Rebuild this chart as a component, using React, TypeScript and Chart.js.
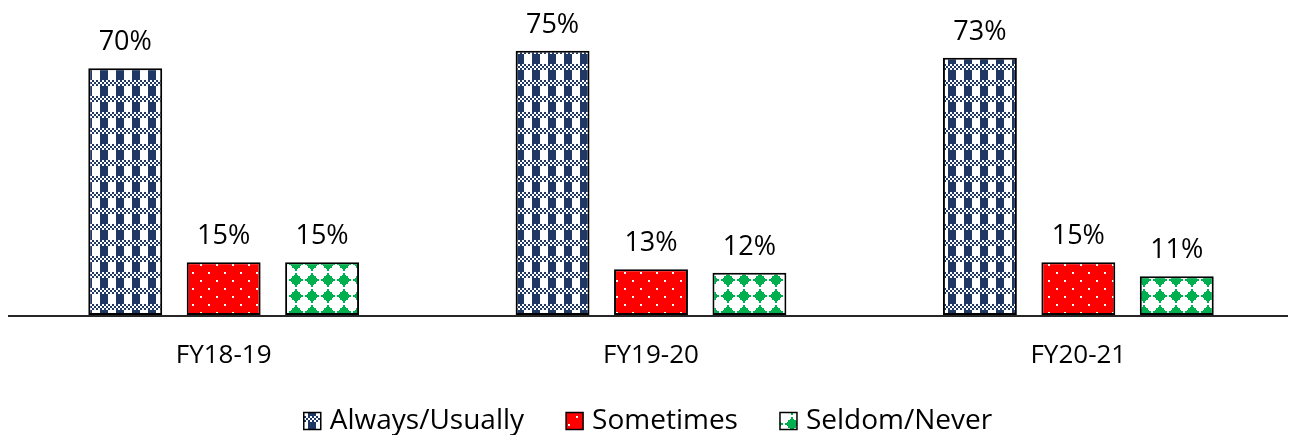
import React, { useEffect, useRef } from "react";
import { Chart, registerables } from "chart.js";

Chart.register(...registerables);

const categories = ["FY18-19", "FY19-20", "FY20-21"];
const seriesNames = ["Always/Usually", "Sometimes", "Seldom/Never"];
const alwaysUsually = [70, 75, 73];
const sometimes = [15, 13, 15];
const seldomNever = [15, 12, 11];
const yMax = 80;

const FONT = "'Open Sans', sans-serif";

function makeTile(draw: (c: CanvasRenderingContext2D) => void, size = 16) {
  const cv = document.createElement("canvas");
  cv.width = size;
  cv.height = size;
  const c = cv.getContext("2d")!;
  draw(c);
  return cv;
}

function buildPatterns(ctx: CanvasRenderingContext2D) {
  const navy = "#203864";
  const always = makeTile((c) => {
    c.fillStyle = "#ffffff";
    c.fillRect(0, 0, 16, 16);
    c.fillStyle = navy;
    for (let y = 0; y < 6; y += 2) {
      for (let x = 0; x < 16; x += 2) {
        if (((x + y) / 2) % 2 === 0) c.fillRect(x, y, 2, 2);
      }
    }
    c.fillRect(4, 6, 8, 10);
  });
  const red = makeTile((c) => {
    c.fillStyle = "#ff0000";
    c.fillRect(0, 0, 16, 16);
    c.fillStyle = "#ffffff";
    c.fillRect(0, 0, 2, 2);
    c.fillRect(8, 8, 2, 2);
  });
  const green = makeTile((c) => {
    c.fillStyle = "#ffffff";
    c.fillRect(0, 0, 16, 16);
    c.fillStyle = "#00b050";
    c.fillRect(1, 7, 14, 2);
    c.fillRect(7, 1, 2, 14);
    c.fillRect(3, 6, 10, 4);
    c.fillRect(6, 3, 4, 10);
    c.fillRect(4, 4, 8, 8);
  });
  return [
    ctx.createPattern(always, "repeat")!,
    ctx.createPattern(red, "repeat")!,
    ctx.createPattern(green, "repeat")!,
  ];
}

const labelPlugin = {
  id: "valueLabels",
  afterDatasetsDraw(chart: any) {
    const ctx = chart.ctx;
    ctx.save();
    ctx.font = `27px ${FONT}`;
    ctx.fillStyle = "#000";
    ctx.textAlign = "center";
    ctx.textBaseline = "alphabetic";
    chart.data.datasets.forEach((ds: any, i: number) => {
      const meta = chart.getDatasetMeta(i);
      meta.data.forEach((el: any, j: number) => {
        ctx.fillText(`${ds.data[j]}%`, el.x, el.y - 18);
      });
    });
    ctx.restore();
  },
};

const axisPlugin = {
  id: "axisLine",
  afterDatasetsDraw(chart: any) {
    const { ctx, chartArea } = chart;
    ctx.save();
    ctx.strokeStyle = "#262626";
    ctx.lineWidth = 2;
    ctx.beginPath();
    ctx.moveTo(8, chartArea.bottom + 1);
    ctx.lineTo(1288, chartArea.bottom + 1);
    ctx.stroke();
    ctx.restore();
  },
};

const legendPlugin = {
  id: "customLegend",
  afterDraw(chart: any) {
    const ctx = chart.ctx;
    ctx.save();
    ctx.font = `28px ${FONT}`;
    const box = 17;
    const gapBoxText = 9;
    const gapItems = 42;
    const widths = chart.data.datasets.map((ds: any) => box + gapBoxText + ctx.measureText(ds.label).width);
    const total = widths.reduce((a: number, b: number) => a + b, 0) + gapItems * (widths.length - 1);
    let x = chart.width / 2 - total / 2;
    const yMid = 421;
    chart.data.datasets.forEach((ds: any, i: number) => {
      ctx.fillStyle = ds.backgroundColor;
      ctx.fillRect(x, yMid - box / 2, box, box);
      ctx.strokeStyle = "#000";
      ctx.lineWidth = 1.5;
      ctx.strokeRect(x, yMid - box / 2, box, box);
      ctx.fillStyle = "#000";
      ctx.textAlign = "left";
      ctx.textBaseline = "middle";
      ctx.fillText(ds.label, x + box + gapBoxText, yMid);
      x += widths[i] + gapItems;
    });
    ctx.restore();
  },
};

export default function App() {
  const ref = useRef<HTMLCanvasElement>(null);
  useEffect(() => {
    document.body.style.margin = "0";
    const canvas = ref.current!;
    const ctx = canvas.getContext("2d")!;
    const patterns = buildPatterns(ctx);
    const values = [alwaysUsually, sometimes, seldomNever];
    const chart = new Chart(ctx, {
      type: "bar",
      data: {
        labels: categories,
        datasets: values.map((d, i) => ({
          label: seriesNames[i],
          data: d,
          backgroundColor: patterns[i] as any,
          borderColor: "#000000",
          borderWidth: 2,
          borderSkipped: false,
          categoryPercentage: 0.691,
          barPercentage: 0.751,
        })),
      },
      options: {
        responsive: false,
        animation: false,
        devicePixelRatio: 1,
        layout: { padding: { top: 33, bottom: 60, left: 10, right: 4 } },
        plugins: { legend: { display: false }, tooltip: { enabled: false } },
        scales: {
          y: { display: false, min: 0, max: yMax },
          x: {
            grid: { display: false, drawTicks: false },
            border: { display: false },
            ticks: { color: "#000", font: { family: FONT, size: 26 }, padding: 25 },
            afterFit(scale: any) {
              scale.height = 60;
            },
          },
        },
      },
      plugins: [labelPlugin, axisPlugin, legendPlugin],
    });
    return () => chart.destroy();
  }, []);
  return (
    <div style={{ width: 1296, height: 435 }}>
      <canvas ref={ref} width={1296} height={435} />
    </div>
  );
}
